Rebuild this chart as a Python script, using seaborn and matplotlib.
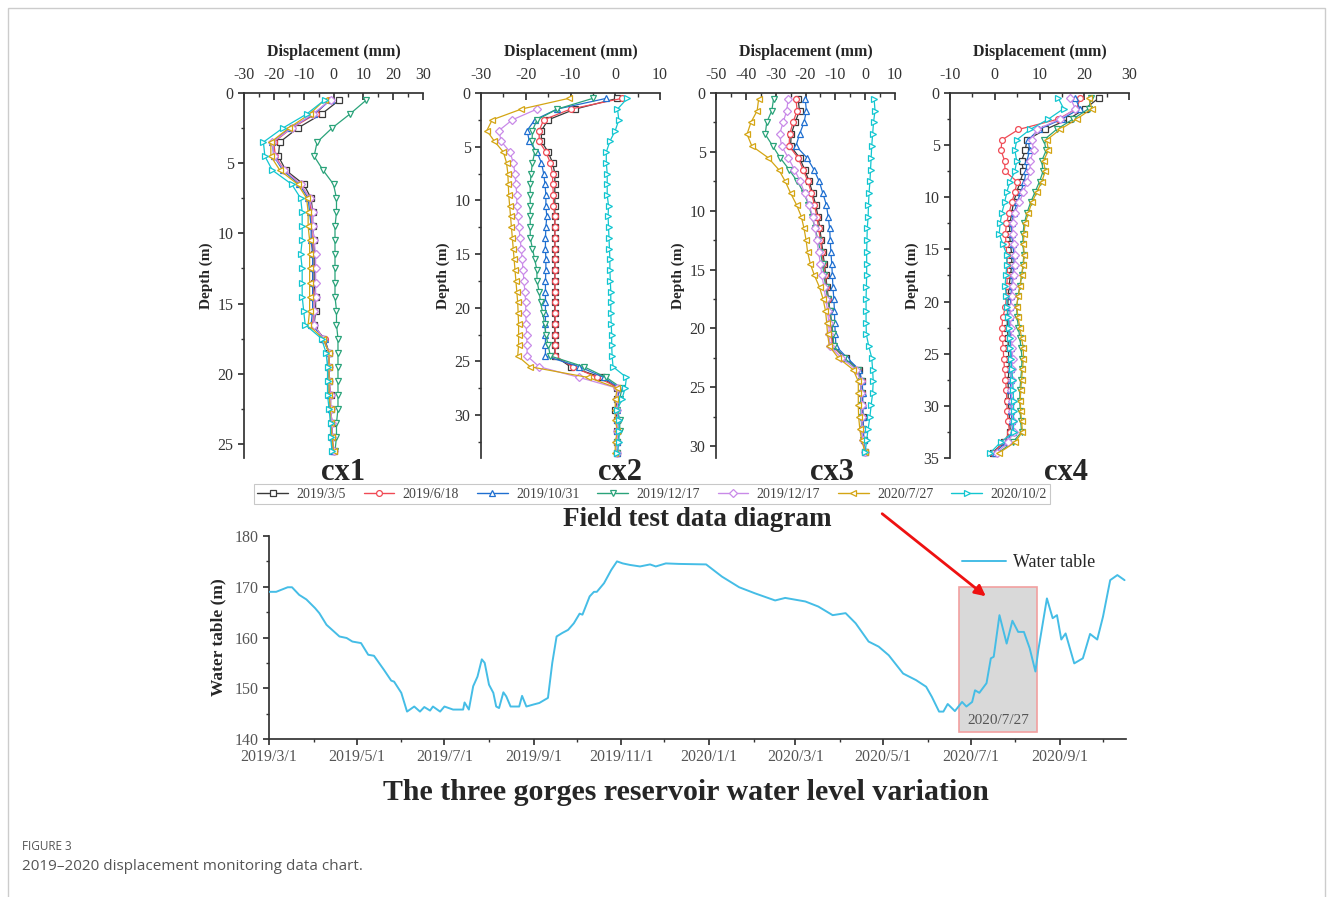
import matplotlib
matplotlib.use('Agg')
import matplotlib.pyplot as plt
import matplotlib.dates as mdates
import matplotlib.ticker as mticker
from matplotlib.patches import Rectangle
from matplotlib.lines import Line2D
import numpy as np
import pandas as pd
import seaborn as sns

# ---- legend of the inclinometer surveys
survey_labels = ['2019/3/5', '2019/6/18', '2019/10/31', '2019/12/17', '2019/12/17', '2020/7/27', '2020/10/2']
survey_colors = ['#3a3a3a', '#f04a55', '#1f6fd0', '#2aa37a', '#c98ae8', '#d4a514', '#12c6d0']
survey_markers = ['s', 'o', '^', 'v', 'D', '<', '>']

# ---- cx1 (depth m / displacement mm)
cx1_depth = [0.5, 1.5, 2.5, 3.5, 4.5, 5.5, 6.5, 7.5, 8.5, 9.5, 10.5, 11.5, 12.5,
             13.5, 14.5, 15.5, 16.5, 17.5, 18.5, 19.5, 20.5, 21.5, 22.5, 23.5, 24.5, 25.5]
cx1_s1 = [2.0, -4, -12, -18, -18.5, -16, -10, -7.5, -7, -7, -6.5, -6.5, -6.5, -6.5, -6, -6, -6.5, -3.5, -1.5, -1.5, -1.5, -1, -1, -0.5, -0.5, 0]
cx1_s2 = [-1.5, -6, -14, -20, -19.5, -16.5, -11, -8, -7.5, -7.5, -7, -7, -7, -7, -6.5, -6.5, -7, -3, -1.5, -1.5, -1.5, -1, -1, -0.5, -0.5, 0]
cx1_s3 = [-1, -6.5, -14.5, -20.5, -20, -17, -11.5, -8.5, -8, -7.5, -7.5, -7, -7, -7, -7, -7, -7.5, -3, -1.5, -2, -1.5, -1.5, -1, -1, -0.5, -0.5]
cx1_s4 = [11, 5.5, -0.5, -5.5, -6.5, -3.5, 0, 1, 1, 0.5, 0.5, 0.5, 0.5, 0.5, 0.5, 1, 1, 1.5, 1.5, 1.5, 1.5, 1.5, 1.5, 1, 1, 0.5]
cx1_s5 = [-1, -7, -14, -20.5, -20, -16.5, -11, -8, -7, -7, -6.5, -6, -6, -6, -6, -6.5, -6.5, -3.5, -1.5, -1.5, -1.5, -1, -1, -0.5, -0.5, 0]
cx1_s6 = [-3, -8, -15, -21, -21, -18, -12, -9, -8.5, -8.5, -8, -8, -8, -8, -8, -8, -8.5, -3.5, -1.5, -1.5, -1.5, -1.5, -1, -1, -0.5, 0]
cx1_s7 = [-3, -9, -17, -23.5, -23, -20.5, -14, -11, -10.5, -10.5, -10.5, -11, -10.5, -10.5, -10.5, -10, -9.5, -4, -2.5, -2, -2, -2, -1.5, -1, -1, -0.5]

# ---- cx2
cx2_depth = [0.5, 1.5, 2.5, 3.5, 4.5, 5.5, 6.5, 7.5, 8.5, 9.5, 10.5, 11.5, 12.5, 13.5, 14.5, 15.5, 16.5,
             17.5, 18.5, 19.5, 20.5, 21.5, 22.5, 23.5, 24.5, 25.5, 26.5, 27.5, 28.5, 29.5, 30.5, 31.5, 32.5, 33.5]
cx2_s1 = [0.5, -9, -15, -16.5, -16.5, -15, -14, -13.5, -13.5, -13.5, -13.5, -13.5, -13.5, -13.5, -13.5, -13.5, -13.5,
          -13.5, -13.5, -13.5, -13.5, -13.5, -13.5, -13.5, -13.5, -10, -3, 0.5, 0.5, 0, 0.5, 0.5, 0.5, 0.5]
cx2_s2 = [1.5, -10, -16, -17, -17, -15.5, -14.5, -14, -14, -13.8, -13.8, -13.5, -13.5, -13.5, -13.5, -13.5, -13.5,
          -13.5, -13.5, -13.4, -13.4, -13.4, -13.4, -13.4, -13.4, -9.5, -4, 1, 0.5, 0.5, 0.5, 0.5, 0.5, 0.5]
cx2_s3 = [-2, -13, -18, -19.7, -19.2, -17.5, -16.5, -16, -15.7, -15.5, -15.5, -15.3, -15.5, -15.6, -15.6, -15.5, -15.5,
          -15.6, -15.6, -15.6, -15.6, -15.6, -15.6, -15.6, -15.6, -8, -2.5, 1, 0.5, 0.5, 0.5, 0.5, 0.5, 0.5]
cx2_s4 = [-5, -13, -17.5, -18.5, -18.6, -18, -18.5, -18.8, -19, -19, -19, -19, -19, -19, -18.5, -18, -17.5,
          -17.5, -17, -16.7, -16.2, -15.8, -15.5, -15, -14.5, -7, -2, 1.5, 1, 0.5, 1, 1, 0.5, 0.5]
cx2_s5 = [np.nan, -17.5, -23, -26, -25.5, -23.5, -22.8, -22.4, -22.2, -22, -22, -21.8, -21.5, -21.3, -21, -20.8, -20.6,
          -20.4, -20.2, -20, -20, -19.9, -19.8, -19.7, -19.7, -17, -8, 0.5, 0.5, 0.5, 0.5, 0.5, 0.5, 0.5]
cx2_s6 = [-10.4, -21, -27.5, -28.7, -27, -25, -24.3, -24, -23.9, -23.8, -23.6, -23.4, -23.2, -23, -22.8, -22.6, -22.4,
          -22.2, -22, -21.8, -21.7, -21.6, -21.6, -21.6, -21.8, -19, -6, 0.5, 0, 0, 0, 0.5, 0, 0]
cx2_s7 = [2.7, 0.5, 0.8, 0, -1.2, -2, -2, -1.8, -1.8, -1.8, -1.5, -1.6, -1.5, -1.4, -1.3, -1.2, -1.2,
          -1.1, -1, -1, -1, -0.9, -0.8, -0.8, -0.7, -0.5, 2.5, 2.2, 1.5, 0.5, 0.8, 0.9, 0.8, 0.5]

# ---- cx3
cx3_depth = [0.5, 1.5, 2.5, 3.5, 4.5, 5.5, 6.5, 7.5, 8.5, 9.5, 10.5, 11.5, 12.5, 13.5, 14.5, 15.5,
             16.5, 17.5, 18.5, 19.5, 20.5, 21.5, 22.5, 23.5, 24.5, 25.5, 26.5, 27.5, 28.5, 29.5, 30.5]
cx3_s1 = [-22.5, -22, -23.5, -24.8, -25, -22, -20.3, -18.8, -17.6, -16.6, -15.8, -15.2, -14.7, -14.2, -13.7, -13.2,
          -12.8, -12.3, -11.8, -11.3, -11, -10.8, -6.5, -2.2, -1.2, -1, -1, -0.8, -0.7, -0.5, 0]
cx3_s2 = [-23.2, -22.8, -24.2, -25.3, -25.5, -22.5, -20.8, -19.2, -18, -17, -16.2, -15.6, -15, -14.5, -14, -13.5,
          -13, -12.6, -12, -11.5, -11.3, -11, -7, -2.5, -1.2, -1, -1, -1, -0.8, -0.5, 0]
cx3_s3 = [-20.1, -19.7, -20.5, -22, -23.2, -19.5, -17.2, -15.4, -14.2, -13, -12.4, -11.9, -11.7, -11.5, -11.2, -11,
          -10.8, -10.5, -10.3, -10.2, -10, -9.8, -6, -2, -1, -0.8, -0.8, -0.7, -0.6, -0.4, 0]
cx3_s4 = [-30.7, -31.3, -33, -33.5, -31, -28.5, -25.5, -22.8, -20.5, -19, -17.8, -16.8, -15.8, -15, -14.3, -13.8,
          -13.2, -12.5, -11.8, -11.2, -10.8, -10.5, -7, -2.5, -1.5, -1.5, -1.5, -1.3, -1.2, -0.8, 0]
cx3_s5 = [-25.8, -26.3, -27.5, -28.7, -28, -25.8, -23.7, -21.8, -20.3, -18.8, -17.6, -16.8, -16.2, -15.6, -15, -14.5,
          -13.8, -13.2, -12.6, -12.2, -12, -11.8, -8, -3, -1.5, -1.3, -1.2, -1.2, -1, -0.8, 0]
cx3_s6 = [-35.7, -36.2, -38.3, -39.6, -38, -32.5, -29, -26.8, -25, -23, -21.4, -20.5, -19.8, -19.3, -18.4, -17,
          -15.3, -14.1, -13.3, -12.9, -12.6, -12, -9, -4, -2.3, -2.3, -2.3, -2.2, -1.8, -1.2, 0]
cx3_s7 = [3, 3.3, 2.8, 2.5, 2.2, 2, 1.8, 1.6, 1.3, 1.1, 1, 0.7, 0.6, 0.5, 0.5, 0.5,
          0.4, 0.3, 0.3, 0.3, 0.4, 1.2, 2.2, 2.5, 2.7, 2.5, 2, 1.6, 1, 0.5, 0]

# ---- cx4
cx4_depth = [0.5, 1.5, 2.5, 3.5, 4.5, 5.5, 6.5, 7.5, 8.5, 9.5, 10.5, 11.5, 12.5, 13.5, 14.5, 15.5, 16.5, 17.5,
             18.5, 19.5, 20.5, 21.5, 22.5, 23.5, 24.5, 25.5, 26.5, 27.5, 28.5, 29.5, 30.5, 31.5, 32.5, 33.5, 34.5]
cx4_s1 = [23.2, 20.2, 16.5, 11.3, 7.2, 6.8, 6.0, 6.4, 5.7, 4.9, 4.2, 3.8, 3.4, 3.3, 3.5, 3.8, 3.8, 3.5,
          3.2, 3.0, 2.9, 2.8, 2.8, 3.0, 3.0, 3.2, 3.2, 3.0, 3.0, 3.0, 3.2, 3.3, 3.5, 2.0, -0.5]
cx4_s2 = [19.1, 18.3, 14.2, 5.3, 1.6, 1.4, 2.2, 2.3, 5.0, 4.5, 3.8, 3.2, 2.6, 2.4, 2.5, 2.7, 2.8, 2.8,
          2.7, 2.6, 2.4, 1.8, 1.6, 1.7, 1.9, 2.0, 2.2, 2.4, 2.6, 2.7, 2.8, 3.0, 3.3, 2.0, -0.3]
cx4_s3 = [18.0, 19.0, 15.0, 9.8, 7.5, 7.8, 7.2, 7.0, 6.6, 5.8, 5.0, 4.3, 3.8, 3.8, 4.0, 4.3, 4.3, 4.0,
          3.8, 3.6, 3.5, 3.4, 3.4, 3.5, 3.6, 3.7, 3.7, 3.6, 3.5, 3.6, 3.7, 3.8, 4.0, 2.5, 0.0]
cx4_s4 = [21.5, 21.0, 17.5, 13.8, 11.0, 11.5, 10.5, 10.8, 10.0, 9.0, 8.0, 7.2, 6.6, 6.3, 6.3, 6.5, 6.3, 6.0,
          5.6, 5.2, 4.9, 5.0, 5.3, 5.6, 5.9, 6.1, 6.0, 5.8, 5.6, 5.6, 5.7, 5.8, 6.0, 4.0, 0.8]
cx4_s5 = [16.9, 18.0, 14.6, 9.4, 8.3, 8.7, 7.9, 7.9, 7.2, 6.4, 5.5, 4.5, 4.0, 4.0, 4.3, 4.6, 4.5, 4.2,
          4.0, 3.8, 3.6, 3.5, 3.6, 3.8, 3.9, 4.0, 3.9, 3.8, 3.7, 3.8, 3.9, 4.0, 4.2, 3.0, 0.5]
cx4_s6 = [21.0, 21.7, 18.3, 14.6, 11.6, 12.0, 10.9, 11.3, 10.5, 9.4, 8.3, 7.5, 6.8, 6.5, 6.4, 6.6, 6.4, 6.0,
          5.7, 5.2, 4.9, 5.2, 5.6, 6.0, 6.4, 6.4, 6.2, 6.0, 5.8, 5.7, 5.8, 6.0, 6.2, 4.5, 1.0]
cx4_s7 = [14.2, 15.4, 12.0, 7.9, 4.9, 4.5, 4.9, 4.5, 3.4, 2.7, 2.2, 1.6, 1.2, 1.0, 1.8, 2.7, 2.7, 2.5,
          2.3, 2.6, 2.8, 3.0, 3.1, 3.3, 3.5, 3.6, 3.8, 4.0, 4.1, 4.2, 4.2, 4.2, 4.2, 1.3, -1.0]

# ---- Three Gorges reservoir water level
wt_dates = ['2019-03-01', '2019-03-06', '2019-03-14', '2019-03-17', '2019-03-22', '2019-03-27', '2019-04-02',
            '2019-04-05', '2019-04-10', '2019-04-19', '2019-04-24', '2019-04-28', '2019-05-04', '2019-05-09',
            '2019-05-13', '2019-05-20', '2019-05-25', '2019-05-27', '2019-06-01', '2019-06-05', '2019-06-10',
            '2019-06-14', '2019-06-17', '2019-06-21', '2019-06-23', '2019-06-28', '2019-07-01', '2019-07-07',
            '2019-07-14', '2019-07-15', '2019-07-18', '2019-07-21', '2019-07-24', '2019-07-27', '2019-07-29',
            '2019-08-01', '2019-08-04', '2019-08-06', '2019-08-08', '2019-08-11', '2019-08-13', '2019-08-16',
            '2019-08-22', '2019-08-24', '2019-08-27', '2019-09-01', '2019-09-05', '2019-09-11', '2019-09-14',
            '2019-09-17', '2019-09-21', '2019-09-25', '2019-09-29', '2019-10-03', '2019-10-05', '2019-10-10',
            '2019-10-13', '2019-10-15', '2019-10-20', '2019-10-25', '2019-10-29', '2019-11-02', '2019-11-07',
            '2019-11-14', '2019-11-21', '2019-11-25', '2019-12-02', '2019-12-11', '2019-12-30', '2020-01-10',
            '2020-01-22', '2020-02-02', '2020-02-16', '2020-02-23', '2020-03-08', '2020-03-17', '2020-03-27',
            '2020-04-05', '2020-04-12', '2020-04-21', '2020-04-28', '2020-05-05', '2020-05-15', '2020-05-24',
            '2020-05-31', '2020-06-04', '2020-06-09', '2020-06-12', '2020-06-15', '2020-06-20', '2020-06-25',
            '2020-06-28', '2020-07-02', '2020-07-04', '2020-07-07', '2020-07-12', '2020-07-15', '2020-07-17',
            '2020-07-21', '2020-07-26', '2020-07-30', '2020-08-03', '2020-08-07', '2020-08-11', '2020-08-15',
            '2020-08-17', '2020-08-23', '2020-08-27', '2020-08-30', '2020-09-02', '2020-09-05', '2020-09-11',
            '2020-09-17', '2020-09-22', '2020-09-27', '2020-10-01', '2020-10-06', '2020-10-11', '2020-10-16']
wt_level = [169.0, 169.0, 169.9, 169.9, 168.4, 167.5, 165.8,
            164.8, 162.5, 160.2, 159.9, 159.2, 158.9, 156.6,
            156.4, 153.6, 151.5, 151.3, 149.1, 145.4, 146.4,
            145.4, 146.3, 145.6, 146.4, 145.4, 146.4, 145.8,
            145.8, 147.2, 145.8, 150.4, 152.3, 155.7, 155.0,
            150.7, 149.1, 146.4, 146.1, 149.2, 148.4, 146.4,
            146.4, 148.5, 146.4, 146.8, 147.1, 148.1, 155.0,
            160.2, 160.9, 161.5, 162.8, 164.7, 164.5, 168.1,
            169.0, 169.0, 170.7, 173.3, 175.0, 174.6, 174.3,
            174.0, 174.4, 174.0, 174.6, 174.5, 174.4, 172.0,
            169.9, 168.7, 167.3, 167.8, 167.1, 166.1, 164.4,
            164.8, 162.8, 159.2, 158.2, 156.5, 152.9, 151.6,
            150.3, 148.3, 145.4, 145.4, 146.9, 145.5, 147.3,
            146.4, 147.3, 149.6, 149.1, 151.0, 155.9, 156.2,
            164.4, 158.8, 163.3, 161.1, 161.1, 157.9, 153.3,
            157.5, 167.7, 163.8, 164.4, 159.6, 160.8, 154.9,
            155.9, 160.7, 159.6, 164.1, 171.3, 172.3, 171.3]

box_start, box_end = '2020-06-23', '2020-08-16'
box_low, box_high = 141.4, 170.0
box_label = '2020/7/27'

panels = [
    ('cx1', cx1_depth, [cx1_s1, cx1_s2, cx1_s3, cx1_s4, cx1_s5, cx1_s6, cx1_s7], (-30, 30), 26, 35),
    ('cx2', cx2_depth, [cx2_s1, cx2_s2, cx2_s3, cx2_s4, cx2_s5, cx2_s6, cx2_s7], (-30, 10), 34, 30),
    ('cx3', cx3_depth, [cx3_s1, cx3_s2, cx3_s3, cx3_s4, cx3_s5, cx3_s6, cx3_s7], (-50, 10), 31, 30),
    ('cx4', cx4_depth, [cx4_s1, cx4_s2, cx4_s3, cx4_s4, cx4_s5, cx4_s6, cx4_s7], (-10, 30), 35, 35),
]
panel_left_px = [244, 481, 716, 950]
name_x_px = [343, 620, 832, 1066]

sns.set_theme(style='ticks')
plt.rcParams['font.family'] = ['Liberation Serif', 'DejaVu Serif']
plt.rcParams['axes.unicode_minus'] = False
plt.rcParams['axes.edgecolor'] = '#333333'
plt.rcParams['xtick.color'] = '#333333'
plt.rcParams['ytick.color'] = '#333333'

W, H = 1333, 897
fig = plt.figure(figsize=(W / 100, H / 100), dpi=100)

for (name, depth, series, xlim, ymax, ytop), lpx, npx in zip(panels, panel_left_px, name_x_px):
    ax = fig.add_axes([lpx / W, 1 - 458 / H, 179 / W, 365 / H])
    rows = []
    for k, vals in enumerate(series):
        for d, v in zip(depth, vals):
            rows.append((k, d, v))
    df = pd.DataFrame(rows, columns=['series', 'depth', 'disp']).dropna()
    for k in range(len(series)):
        sub = df[df['series'] == k]
        sns.lineplot(data=sub, x='disp', y='depth', sort=False, estimator=None, ax=ax,
                     color=survey_colors[k], lw=0.9, marker=survey_markers[k],
                     ms=4.2, mfc='white', mec=survey_colors[k], mew=0.9, legend=False)
    ax.set_xlim(*xlim)
    ax.set_ylim(ymax, 0)
    ax.xaxis.set_major_locator(mticker.MultipleLocator(10))
    ax.xaxis.set_minor_locator(mticker.MultipleLocator(5))
    ax.yaxis.set_major_locator(mticker.FixedLocator(list(range(0, ytop + 1, 5))))
    ax.yaxis.set_minor_locator(mticker.MultipleLocator(2.5))
    ax.xaxis.tick_top()
    ax.xaxis.set_label_position('top')
    ax.tick_params(axis='x', which='both', direction='in', labelsize=11.5, pad=7)
    ax.tick_params(axis='x', which='major', length=5)
    ax.tick_params(axis='x', which='minor', length=3)
    ax.tick_params(axis='y', which='major', direction='out', length=4, labelsize=11.5)
    ax.tick_params(axis='y', which='minor', direction='out', length=2.5)
    for s in ['right', 'bottom']:
        ax.spines[s].set_visible(False)
    ax.set_xlabel('Displacement (mm)', fontsize=11.5, fontweight='bold', labelpad=8)
    ax.set_ylabel('Depth (m)', fontsize=11, fontweight='bold', labelpad=3)
    fig.text(npx / W, 1 - 472 / H, name, fontsize=22, fontweight='bold', ha='center', va='center')

handles = [Line2D([], [], color=c, marker=m, ms=4.2, mfc='white', mec=c, mew=0.9, lw=1)
           for c, m in zip(survey_colors, survey_markers)]
leg = fig.legend(handles, survey_labels, loc='center', bbox_to_anchor=(652 / W, 1 - 494 / H), ncol=7,
                 frameon=True, fancybox=False, edgecolor='#bbbbbb', fontsize=10, handlelength=2.2,
                 columnspacing=1.3, borderpad=0.25, handletextpad=0.6, labelcolor='#444444')
leg.get_frame().set_linewidth(0.8)

fig.text(697 / W, 1 - 520 / H, 'Field test data diagram', fontsize=19.5, fontweight='bold',
         ha='center', va='center')

# ---- water level chart
axw = fig.add_axes([269 / W, 1 - 739 / H, 857 / W, 203 / H])
wt = pd.DataFrame({'date': pd.to_datetime(wt_dates), 'level': wt_level})
x0 = mdates.date2num(pd.Timestamp(box_start))
x1 = mdates.date2num(pd.Timestamp(box_end))
axw.add_patch(Rectangle((x0, box_low), x1 - x0, box_high - box_low, facecolor='#d9d9d9',
                        edgecolor='#f2a0a0', lw=1.2, zorder=1))
sns.lineplot(data=wt, x='date', y='level', ax=axw, color='#45bde6', lw=1.4, label='Water table', zorder=3)
axw.text((x0 + x1) / 2, box_low + 2.2, box_label, fontsize=11, color='#555555', ha='center', va='center')
axw.set_xlim(mdates.date2num(pd.Timestamp('2019-03-01')), mdates.date2num(pd.Timestamp('2020-10-17')))
axw.set_ylim(140, 180)
axw.yaxis.set_major_locator(mticker.MultipleLocator(10))
axw.yaxis.set_minor_locator(mticker.MultipleLocator(5))
axw.xaxis.set_major_locator(mdates.MonthLocator(bymonth=[1, 3, 5, 7, 9, 11]))
axw.xaxis.set_minor_locator(mdates.MonthLocator())
axw.xaxis.set_major_formatter(mticker.FuncFormatter(
    lambda v, p: '{0.year}/{0.month}/{0.day}'.format(mdates.num2date(v))))
axw.tick_params(axis='both', which='major', direction='out', length=4, labelsize=11.5,
                labelcolor='#555555')
axw.tick_params(axis='both', which='minor', direction='out', length=2.5)
for s in ['right', 'top']:
    axw.spines[s].set_visible(False)
axw.set_xlabel('')
axw.set_ylabel('Water table (m)', fontsize=12.5, fontweight='bold', labelpad=6)
axw.legend(loc='upper right', bbox_to_anchor=(0.983, 0.99), frameon=False, fontsize=13,
           handlelength=2.4, handletextpad=0.4)

axw.annotate('', xy=(988 / W, 1 - 598 / H), xycoords='figure fraction',
             xytext=(880 / W, 1 - 512 / H), textcoords='figure fraction',
             arrowprops=dict(arrowstyle='-|>', color='#ee1111', lw=2, mutation_scale=16))

fig.text(686 / W, 1 - 792 / H, 'The three gorges reservoir water level variation', fontsize=21.5,
         fontweight='bold', ha='center', va='center')

# ---- caption and frame
fig.text(22 / W, 1 - 846 / H, 'FIGURE 3', fontsize=8.5, family='Open Sans', color='#555555', va='center')
fig.text(22 / W, 1 - 866 / H, '2019\u20132020 displacement monitoring data chart.', fontsize=11,
         family='Open Sans', color='#555555', va='center')
fig.add_artist(Rectangle((8 / W, -0.02), (1325 - 8) / W, 1.02 - 8 / H, transform=fig.transFigure,
                         fill=False, edgecolor='#cccccc', lw=1))

fig.savefig('out.png', dpi=100)
